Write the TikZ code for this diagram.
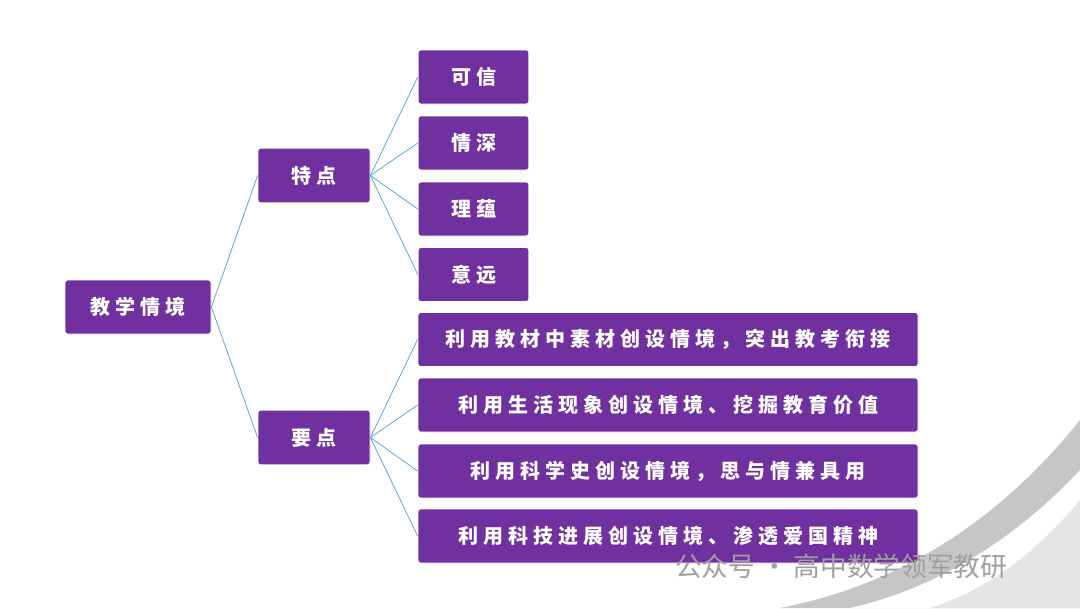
\documentclass[tikz,border=0pt]{standalone}
\usepackage{fontspec}
\newfontfamily\cjk[LetterSpace=25]{Noto Sans CJK SC}
\newfontfamily\cjkw{Noto Sans CJK SC}
\definecolor{pur}{HTML}{7030A0}
\definecolor{lnk}{HTML}{5FA8D3}
\tikzset{box/.style={draw=white,line width=0.6pt,fill=pur,rounded corners=2pt,text=white,font=\cjk\bfseries\fontsize{15}{18}\selectfont,inner sep=0pt,align=center},
 lnkline/.style={draw=lnk,line width=0.6pt}}
\begin{document}
\begin{tikzpicture}[x=0.75pt,y=-0.75pt]
\useasboundingbox (0,0) rectangle (1080,608);
\fill[white] (0,0) rectangle (1080,608);
% swoosh
\fill[gray!45] (1080,420) .. controls (1000,520) and (900,585) .. (780,608) -- (1080,608) -- cycle;
\fill[white] (1080,470) .. controls (1010,545) and (930,590) .. (850,608) -- (1080,608) -- cycle;
\fill[gray!20] (1080,500) .. controls (1030,560) and (980,592) .. (930,608) -- (1080,608) -- cycle;
\node[box,minimum width=109.5pt,minimum height=40.5pt] (root) at (138,307) {教学情境};
\node[box,minimum width=84pt,minimum height=41pt] (t) at (314,175.5) {特点};
\node[box,minimum width=84pt,minimum height=41pt] (y) at (314,437.5) {要点};
\foreach \n/\yy/\s in {a/77/可信,b/143/情深,c/209/理蕴,d/274.5/意远}
  \node[box,minimum width=83pt,minimum height=40.5pt] (\n) at (473.5,\yy) {\s};
\foreach \n/\yy/\s in {e/339.5/利用教材中素材创设情境，突出教考衔接,f/405/利用生活现象创设情境、挖掘教育价值,g/471/利用科学史创设情境，思与情兼具用,h/536/利用科技进展创设情境、渗透爱国精神}
  \node[box,minimum width=375pt,minimum height=40.5pt] (\n) at (668,\yy) {\s};
\draw[lnkline] (root.east) -- (t.west);
\draw[lnkline] (root.east) -- (y.west);
\foreach \n in {a,b,c,d} \draw[lnkline] (t.east) -- (\n.west);
\foreach \n in {e,f,g,h} \draw[lnkline] (y.east) -- (\n.west);
\node[text=gray!75,font=\cjkw\fontsize{20}{24}\selectfont,anchor=west,inner sep=0pt] (wm) at (675,566) {公众号 · 高中数学领军教研};
\end{tikzpicture}
\end{document}
